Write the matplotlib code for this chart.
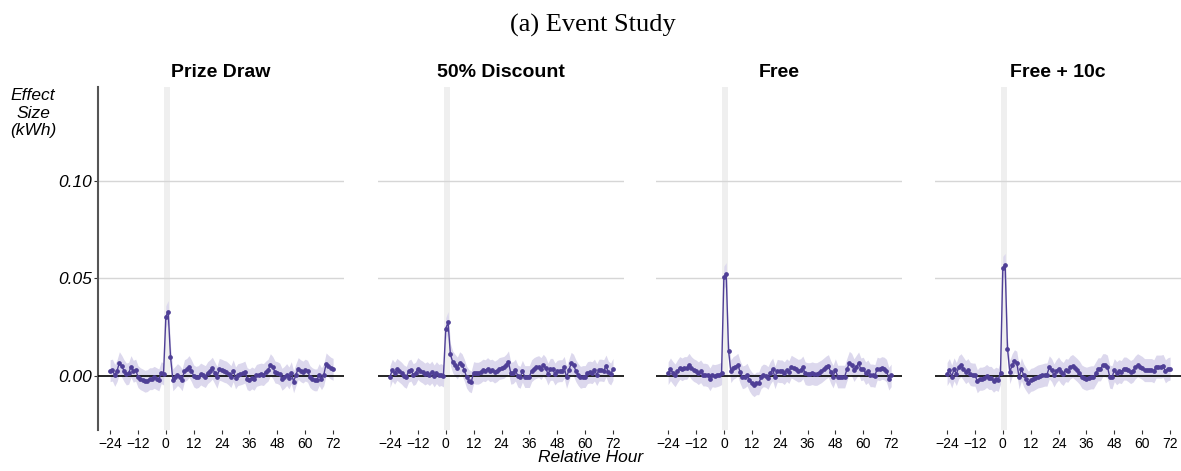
import matplotlib.pyplot as plt
import numpy as np

hours = np.arange(-24, 73)

panel_titles = ["Prize Draw", "50% Discount", "Free", "Free + 10c"]

prize_draw = [
    0.0027, 0.003, 0.0003, 0.0027, 0.0068, 0.005, 0.0027, 0.001, 0.0014, 0.0048, 0.0024, 0.003,
    -0.0003, -0.0014, -0.002, -0.0027, -0.0024, -0.0014, -0.0014, -0.0007, -0.0014, -0.002, 0.0017, 0.001,
    0.0304, 0.033, 0.0099, -0.002, -0.0007, 0.0007, -0.0003, -0.002, 0.0027, 0.0034, 0.0048, 0.0027,
    0.0, -0.0007, -0.0003, 0.001, 0.0003, -0.0003, 0.0017, 0.0027, 0.004, 0.0017, -0.0007, 0.0034,
    0.003, 0.0024, 0.002, 0.001, -0.0003, 0.0027, -0.001, 0.0007, 0.001, 0.0014, 0.002, -0.0014,
    -0.002, -0.001, -0.0017, 0.0003, 0.0007, 0.001, 0.0007, 0.002, 0.003, 0.0058, 0.0044, 0.002,
    0.0017, 0.001, -0.0017, -0.0007, 0.0007, -0.001, 0.0017, -0.003, 0.0007, 0.0038, 0.0027, 0.002,
    0.003, 0.0024, -0.0003, -0.0014, -0.002, -0.002, 0.0007, -0.0014, 0.0007, 0.0062, 0.005, 0.004, 0.0034,
]

discount_50 = [
    -0.0003, 0.003, 0.0014, 0.0034, 0.0024, 0.0014, 0.0, -0.0007, 0.0024, 0.003, 0.0007, 0.0014,
    0.0038, 0.0027, 0.002, 0.001, 0.0017, 0.0007, 0.002, 0.0, 0.0017, 0.0003, 0.0007, 0.0,
    0.0243, 0.0274, 0.011, 0.0072, 0.0055, 0.0041, 0.0068, 0.0058, 0.003, -0.0007, -0.0024, -0.003,
    0.0017, 0.0014, 0.0014, 0.002, 0.003, 0.0027, 0.0038, 0.0027, 0.003, 0.002, 0.0027, 0.0038,
    0.0041, 0.0044, 0.0055, 0.0072, 0.0014, 0.0017, 0.003, 0.0, -0.0007, 0.0024, -0.0003, -0.0003,
    -0.0003, 0.0027, 0.0038, 0.0044, 0.0048, 0.0038, 0.0055, 0.0041, 0.001, 0.0034, 0.0034, 0.001,
    0.0024, 0.0027, 0.0027, 0.0044, -0.0007, 0.003, 0.0065, 0.0055, 0.0027, 0.0007, -0.0007, -0.0003,
    -0.0003, 0.0017, 0.002, 0.0017, 0.003, 0.0007, 0.003, 0.003, 0.0027, 0.0051, 0.002, 0.001, 0.0034,
]

free = [
    0.0014, 0.0034, 0.0017, 0.0003, 0.0024, 0.0041, 0.0034, 0.0041, 0.0041, 0.0058, 0.0041, 0.003,
    0.0024, 0.0014, 0.0024, 0.0007, 0.0007, 0.0003, -0.0017, 0.0003, 0.0, 0.0003, 0.0007, 0.0014,
    0.0505, 0.0523, 0.013, 0.0024, 0.0041, 0.0048, 0.0058, 0.002, -0.0007, -0.0003, 0.0007, -0.002,
    -0.0038, -0.0048, -0.0038, -0.0038, -0.0007, 0.0003, 0.0, -0.001, 0.0017, 0.0034, -0.0007, 0.0027,
    0.0024, 0.0024, 0.0014, 0.003, 0.002, 0.0048, 0.0041, 0.0034, 0.0027, 0.003, 0.0044, 0.0014,
    0.001, 0.001, 0.0014, 0.001, 0.001, 0.0017, 0.0024, 0.0034, 0.0044, 0.0051, 0.002, -0.0003,
    0.003, -0.0003, -0.0003, -0.0003, -0.0003, 0.0034, 0.0068, 0.0058, 0.003, 0.0048, 0.0065, 0.0034,
    0.0038, 0.0014, 0.0024, 0.0003, 0.0003, 0.0, 0.0038, 0.0034, 0.0041, 0.0038, 0.0027, -0.0014, 0.0003,
]

free_10c = [
    0.001, 0.003, -0.0003, 0.0034, 0.001, 0.0044, 0.0055, 0.0038, 0.002, 0.003, 0.001, 0.0007,
    0.0007, -0.0027, -0.0014, -0.0014, -0.001, 0.0, -0.001, -0.001, -0.0024, -0.0014, -0.002, 0.0017,
    0.0554, 0.0569, 0.014, 0.002, 0.0055, 0.0075, 0.0068, -0.0007, 0.0034, 0.0003, -0.0017, -0.0034,
    -0.002, -0.0017, -0.001, -0.0003, 0.0, 0.0003, 0.0007, 0.0007, 0.0044, 0.003, 0.0003, 0.0024,
    0.0038, 0.002, 0.001, 0.003, 0.0027, 0.0044, 0.0051, 0.0041, 0.003, 0.0017, -0.0003, -0.001,
    -0.0014, -0.001, -0.0007, -0.0007, 0.0014, 0.0034, 0.0034, 0.0055, 0.0055, 0.0048, -0.0003, -0.0007,
    0.003, 0.0014, 0.0024, 0.002, 0.0038, 0.0038, 0.003, 0.002, 0.0027, 0.0044, 0.0055, 0.0048,
    0.0041, 0.003, 0.003, 0.003, 0.003, 0.0024, 0.0048, 0.0048, 0.0048, 0.0051, 0.0024, 0.0034, 0.0038,
]

# half width of the 95% band
ci_half = [0.0056, 0.0056, 0.0058, 0.0059]

series = [prize_draw, discount_50, free, free_10c]
x_ticks = [-24, -12, 0, 12, 24, 36, 48, 60, 72]
y_ticks = [0.00, 0.05, 0.10]

line_col = "#4f3f96"
band_col = "#dcd8ed"

plt.rcParams['font.family'] = ['Liberation Sans', 'DejaVu Sans']

fig = plt.figure(figsize=(11.81, 4.71), dpi=100)
lefts = [0.083, 0.320, 0.5555, 0.7917]

for i in range(4):
    ax = fig.add_axes([lefts[i], 0.087, 0.2083, 0.728])
    est = np.array(series[i])
    ax.axvspan(-0.75, 1.75, color="#efefef", lw=0, zorder=0)
    for yv in [0.05, 0.10]:
        ax.axhline(yv, color="#d6d6d6", lw=1, zorder=1)
    ax.fill_between(hours, est - ci_half[i], est + ci_half[i], color=band_col, lw=0, zorder=2)
    ax.axhline(0, color="black", lw=1.2, zorder=3)
    ax.plot(hours, est, color=line_col, lw=1, marker="o", ms=2.4, zorder=4)
    ax.set_xlim(-29.2, 76.7)
    ax.set_ylim(-0.0277, 0.148)
    ax.set_title(panel_titles[i], fontsize=14, fontweight="bold", pad=7)
    ax.set_xticks(x_ticks)
    ax.tick_params(axis="x", length=3, width=0.8, color="#333333", labelsize=10, pad=2)
    for s in ["top", "right", "bottom"]:
        ax.spines[s].set_visible(False)
    if i == 0:
        ax.set_yticks(y_ticks)
        ax.set_yticklabels(["0.00", "0.05", "0.10"], fontstyle="italic", fontsize=12.5)
        ax.tick_params(axis="y", length=3, width=0.8, color="#333333", pad=1)
        ax.spines["left"].set_color("#555555")
        ax.spines["left"].set_linewidth(1.5)
    else:
        ax.spines["left"].set_visible(False)
        ax.set_yticks([])

fig.text(0.028, 0.76, "Effect\nSize\n(kWh)", ha="center", va="center",
         fontsize=12.5, fontstyle="italic", linespacing=1.2)
fig.text(0.5, 0.028, "Relative Hour", ha="center", va="center", fontsize=12.5, fontstyle="italic")
fig.text(0.502, 0.945, "(a) Event Study", ha="center", va="center", fontsize=19,
         family=["Liberation Serif", "DejaVu Serif"])

fig.savefig("out.png", dpi=100)
